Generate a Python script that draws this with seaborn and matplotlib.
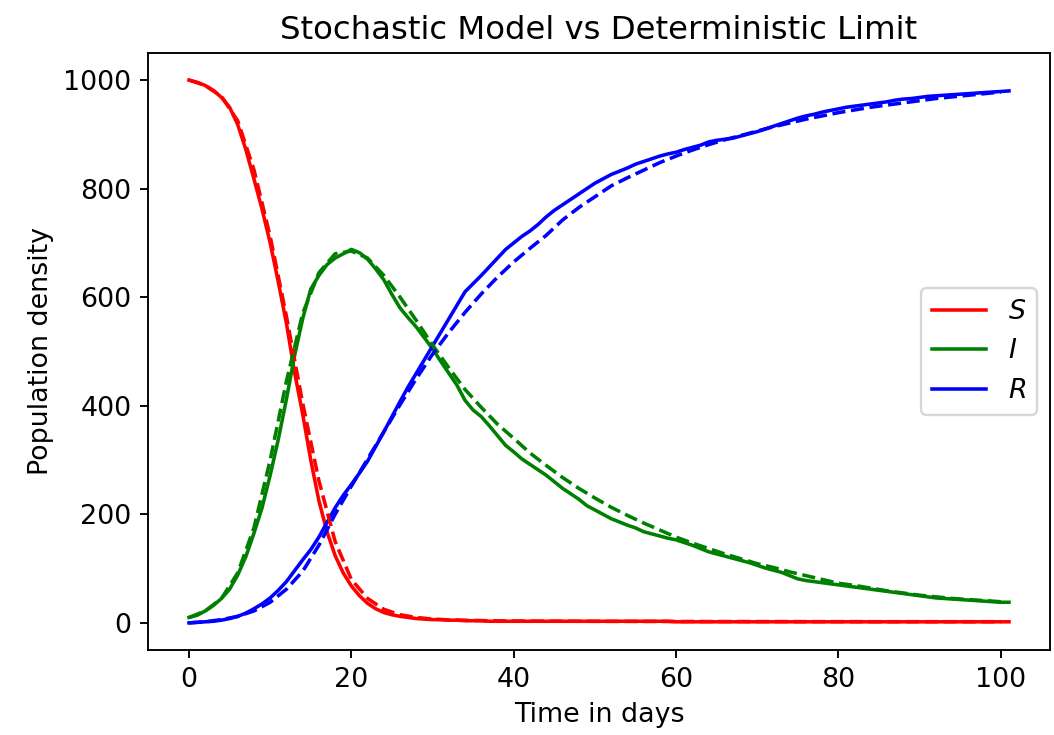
import numpy as np
import pandas as pd
import matplotlib
matplotlib.use('Agg')
import matplotlib.pyplot as plt
import seaborn as sns

# deterministic limit, every 2 days
t_det = list(range(0, 101, 2))
S_det = [1000, 990, 970, 925, 835, 712, 565, 405, 262, 150,
         80, 45, 25, 15, 10, 7, 5.5, 4.8, 4.2, 3.8,
         3.5, 3.3, 3.2, 3.1, 3.0, 2.9, 2.8, 2.8, 2.7, 2.7,
         2.6, 2.6, 2.5, 2.5, 2.5, 2.4, 2.4, 2.4, 2.3, 2.3,
         2.3, 2.3, 2.2, 2.2, 2.2, 2.2, 2.2, 2.2, 2.2, 2.2, 2.2]
I_det = [10, 22, 45, 92, 175, 300, 445, 570, 645, 680,
         685, 672, 640, 600, 557, 512, 470, 430, 397, 366,
         340, 313, 290, 268, 248, 230, 213, 198, 184, 171,
         158, 147, 137, 127, 118, 109, 102, 94, 87, 80,
         73, 69, 64, 59, 55, 51, 48, 45, 43, 41, 39]
R_det = [0, 2, 6, 12, 22, 38, 62, 95, 143, 200,
         252, 302, 352, 402, 450, 495, 535, 572, 606, 637,
         665, 690, 714, 742, 765, 785, 805, 820, 834, 848,
         860, 871, 881, 890, 898, 906, 914, 921, 928, 934,
         940, 945, 950, 954, 958, 962, 966, 969, 972, 975, 978]

# stochastic run, every day
t_sto = list(range(0, 102))
S_sto = [1000, 996, 990, 981, 968, 950, 918, 872, 818, 762,
         700, 628, 552, 462, 385, 300, 225, 168, 124, 92,
         68, 50, 36, 26, 19, 15, 12, 10, 8, 7,
         6, 6, 5, 5, 4, 4, 4, 3, 3, 3,
         3, 3, 3, 3, 3, 3, 3, 3, 3, 3,
         3, 3, 3, 3, 3, 3, 3, 3, 3, 3,
         2, 2, 2, 2, 2, 2, 2, 2, 2, 2,
         2, 2, 2, 2, 2, 2, 2, 2, 2, 2,
         2, 2, 2, 2, 2, 2, 2, 2, 2, 2,
         2, 2, 2, 2, 2, 2, 2, 2, 2, 2,
         2, 2]
I_sto = [10, 14, 22, 32, 45, 62, 88, 122, 165, 212,
         272, 338, 412, 492, 560, 615, 640, 660, 672, 680,
         688, 682, 670, 652, 632, 605, 580, 562, 545, 525,
         505, 482, 460, 438, 410, 392, 380, 363, 345, 327,
         315, 302, 292, 282, 272, 260, 248, 238, 228, 216,
         208, 200, 192, 186, 180, 175, 168, 164, 160, 156,
         153, 148, 143, 137, 131, 127, 123, 119, 115, 111,
         106, 101, 97, 93, 87, 81, 78, 76, 74, 72,
         70, 68, 66, 64, 62, 60, 58, 56, 54, 52,
         50, 48, 46, 45, 44, 43, 42, 41, 40, 39,
         38, 38]
R_sto = [0, 1, 2, 3, 5, 8, 12, 18, 26, 35,
         46, 60, 76, 96, 116, 135, 158, 185, 212, 235,
         255, 276, 298, 325, 352, 380, 408, 435, 460, 485,
         510, 535, 560, 585, 610, 625, 640, 656, 672, 688,
         700, 712, 722, 734, 748, 760, 770, 780, 790, 800,
         810, 818, 826, 832, 838, 845, 850, 855, 860, 864,
         867, 872, 876, 880, 886, 889, 891, 893, 897, 901,
         905, 910, 915, 920, 925, 930, 934, 937, 941, 944,
         947, 950, 952, 954, 956, 958, 960, 963, 965, 966,
         968, 970, 971, 972, 973, 974, 975, 976, 977, 978,
         979, 980]

det = pd.DataFrame({'t': t_det, 'S': S_det, 'I': I_det, 'R': R_det})
sto = pd.DataFrame({'t': t_sto, 'S': S_sto, 'I': I_sto, 'R': R_sto})

colors = {'S': 'red', 'I': 'green', 'R': 'blue'}

plt.rcParams['font.size'] = 11.4

fig, ax = plt.subplots(figsize=(1054 / 170, 735 / 170), dpi=170)
fig.subplots_adjust(left=0.1404, right=0.9962, bottom=0.1156, top=0.928)

for comp in ['S', 'I', 'R']:
    sns.lineplot(data=sto, x='t', y=comp, color=colors[comp], ax=ax,
                 label=f'${comp}$', linewidth=1.5)
for comp in ['S', 'I', 'R']:
    sns.lineplot(data=det, x='t', y=comp, color=colors[comp], ax=ax,
                 linestyle='--', linewidth=1.5, legend=False)

ax.set_title('Stochastic Model vs Deterministic Limit', fontsize=13.7)
ax.set_xlabel('Time in days')
ax.set_ylabel('Population density')
ax.set_xticks([0, 20, 40, 60, 80, 100])
ax.set_yticks([0, 200, 400, 600, 800, 1000])
ax.legend(loc='center right')

fig.savefig('out.png', dpi=170)
